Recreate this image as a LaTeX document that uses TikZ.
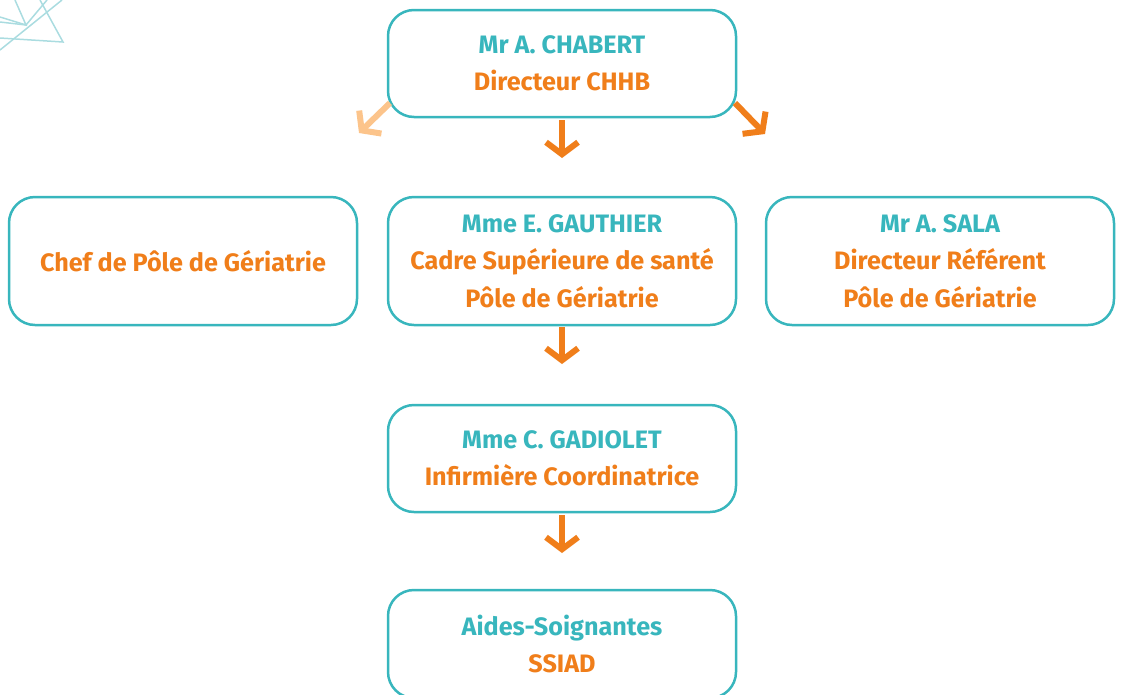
\documentclass[tikz,border=0pt]{standalone}
\usepackage{fontspec}
\setmainfont{Fira Sans}
\usetikzlibrary{arrows.meta, positioning}
\definecolor{turquoise}{RGB}{56,182,189}
\definecolor{turquoiseclair}{RGB}{170,220,224}
\definecolor{orangeA}{RGB}{240,126,26}
\definecolor{orangeclair}{RGB}{252,196,139}

\begin{document}
\begin{tikzpicture}[x=1pt, y=1pt, node distance=80pt and 30pt, font=\bfseries\fontsize{25.2}{37.5}\selectfont,
    bloc/.style={draw=turquoise, line width=2.5pt, rounded corners=26pt, fill=white, outer sep=0pt, minimum width=348pt, minimum height=107pt, align=center, text=orangeA},
    grandbloc/.style={bloc, minimum height=128pt},
    fleche/.style={draw=orangeA, line width=6pt, -{Straight Barb[length=12pt, width=32pt]}},
    flecheclair/.style={fleche, draw=orangeclair},
    deco/.style={draw=turquoiseclair, line width=1.5pt}]
    \useasboundingbox (0,0) rectangle (1121,-694);
    % Decoration in the top left corner
    \draw[deco] (0,-17) -- (26,-25) -- (15,0);
    \draw[deco] (0,-22) -- (26,-25) -- (47,0);
    \draw[deco] (40,0) -- (63,-42) -- (0,-38);
    \draw[deco] (62,0) -- (0,-50);
    % Define the blocks for each person
    \node (chabert) [bloc] at (562,-63.5) {\textcolor{turquoise}{Mr A. CHABERT}\\Directeur CHHB};
    \node (gauthier) [grandbloc, below=of chabert] {\textcolor{turquoise}{Mme E. GAUTHIER}\\Cadre Supérieure de santé\\Pôle de Gériatrie};
    \node (chefpole) [grandbloc, left=31pt of gauthier, text depth=-6pt] {Chef de Pôle de Gériatrie};
    \node (sala) [grandbloc, right=of gauthier] {\textcolor{turquoise}{Mr A. SALA}\\Directeur Référent\\Pôle de Gériatrie};
    \node (gadiolet) [bloc, below=of gauthier] {\textcolor{turquoise}{Mme C. GADIOLET}\\Infirmière Coordinatrice};
    \node (aides) [bloc, below=78pt of gadiolet, minimum height=108pt] {\textcolor{turquoise}{Aides-Soignantes}\\SSIAD};
    % Draw arrows to show the hierarchy
    \coordinate (gdebut) at ([shift={(2,14)}]chabert.south west);
    \coordinate (gfin) at ([shift={(-29,-16)}]chabert.south west);
    \coordinate (ddebut) at ([shift={(-1,14)}]chabert.south east);
    \coordinate (dfin) at ([shift={(29,-17)}]chabert.south east);
    \draw[flecheclair] (gdebut) -- (gfin);
    \draw[fleche] (ddebut) -- (dfin);
    \draw[fleche, shorten <=3pt, shorten >=39pt] (chabert) -- (gauthier);
    \draw[fleche, shorten <=2pt, shorten >=41pt] (gauthier) -- (gadiolet);
    \draw[fleche, shorten <=3pt, shorten >=37pt] (gadiolet) -- (aides);
\end{tikzpicture}
\end{document}
